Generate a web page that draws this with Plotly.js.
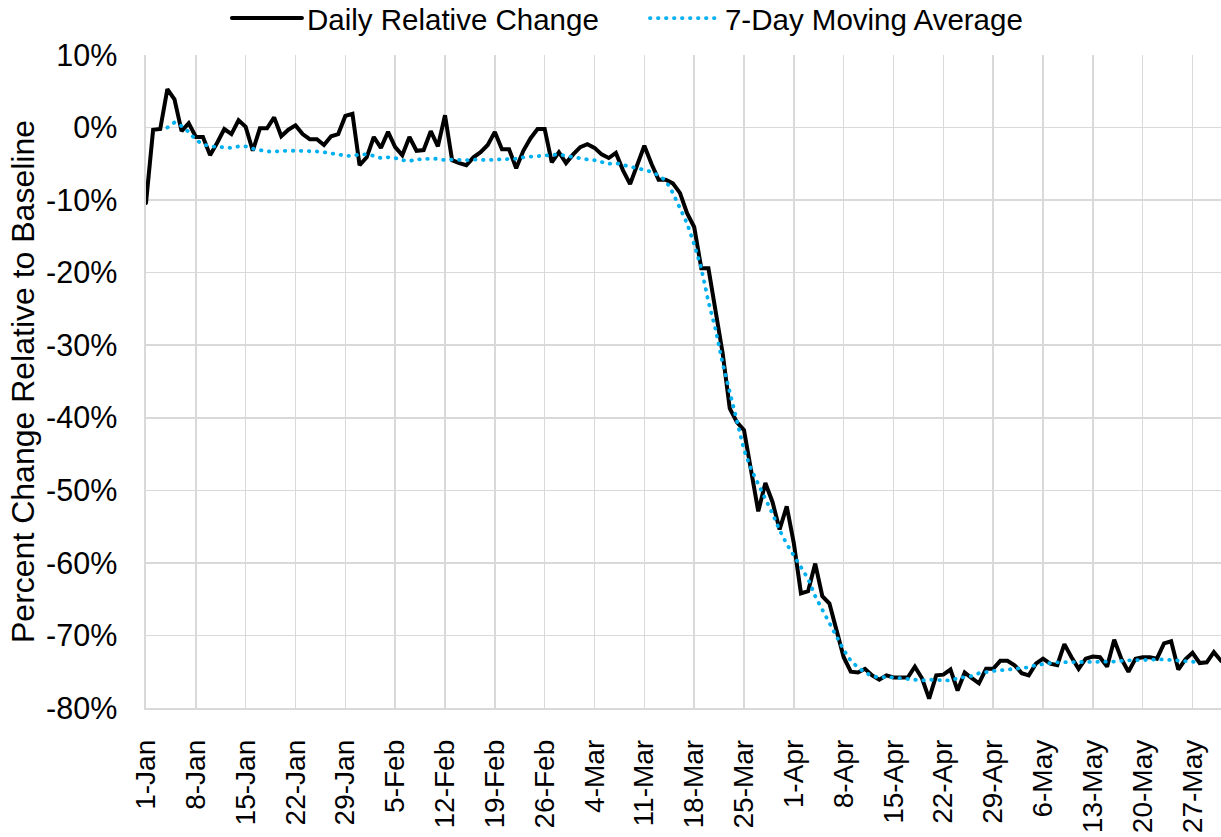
<!DOCTYPE html>
<html>
<head>
<meta charset="utf-8">
<script src="https://cdn.plot.ly/plotly-3.0.1.min.js"></script>
<style>
html,body{margin:0;padding:0;background:#fff;}
#chart{width:1221px;height:837px;}
#chart path.js-line{stroke-linecap:round;}
</style>
</head>
<body>
<div id="chart"></div>
<script>
// Daily series, 1-Jan-2020 .. 31-May-2020
const startDate = '2020-01-01';
const dayCount = 152;

const dailyChange = [
-10.4,-0.3,-0.2,5.3,3.9,-0.5,0.6,-1.3,-1.3,-3.8,
-2.1,-0.2,-0.9,1.0,0.1,-3.2,-0.1,-0.1,1.4,-1.2,
-0.3,0.3,-0.9,-1.6,-1.6,-2.4,-1.2,-0.9,1.6,1.9,
-5.2,-4.1,-1.3,-2.8,-0.6,-2.7,-3.8,-1.3,-3.2,-3.1,
-0.5,-2.6,1.7,-4.5,-4.9,-5.2,-4.1,-3.4,-2.4,-0.6,
-3.0,-3.0,-5.6,-3.2,-1.5,-0.2,-0.2,-4.8,-3.4,-4.9,
-3.7,-2.7,-2.3,-2.8,-3.7,-4.2,-3.5,-5.9,-7.8,-5.2,
-2.5,-5.0,-7.2,-7.2,-7.7,-9.0,-11.8,-13.7,-19.4,-19.4,
-25.4,-31.1,-38.7,-40.6,-41.7,-47.2,-52.9,-49.0,-51.6,-55.4,
-52.2,-57.3,-64.2,-63.9,-60.1,-64.6,-65.6,-69.3,-73.0,-75.0,
-75.1,-74.6,-75.5,-76.1,-75.5,-75.8,-75.8,-75.8,-74.3,-75.9,
-78.7,-75.5,-75.4,-74.7,-77.6,-75.1,-75.9,-76.6,-74.6,-74.6,
-73.5,-73.5,-74.1,-75.2,-75.5,-73.9,-73.2,-73.9,-74.1,-71.2,
-73.0,-74.6,-73.2,-72.9,-73.0,-74.3,-70.6,-73.2,-75.0,-73.2,
-73.0,-73.0,-73.2,-71.1,-70.8,-74.7,-73.3,-72.4,-73.8,-73.7,
-72.3,-73.5
];

const movingAverage = [
null,null,null,0.0,0.7,0.2,-0.6,-1.7,-2.3,-2.6,
-2.7,-2.7,-2.8,-2.6,-2.6,-2.9,-3.1,-3.3,-3.3,-3.2,
-3.2,-3.2,-3.2,-3.2,-3.3,-3.4,-3.5,-3.7,-3.9,-3.9,
-3.7,-3.7,-3.9,-4.2,-4.1,-4.2,-4.5,-4.6,-4.4,-4.3,
-4.3,-4.3,-4.5,-4.4,-4.5,-4.5,-4.4,-4.5,-4.5,-4.4,
-4.4,-4.4,-4.3,-4.1,-4.0,-3.9,-3.9,-3.8,-3.7,-3.9,
-4.1,-4.3,-4.4,-4.5,-4.8,-5.0,-4.9,-5.2,-5.4,-5.6,
-5.8,-6.1,-6.6,-7.3,-9.0,-11.0,-13.2,-16.1,-19.4,-24.0,
-27.8,-32.5,-36.5,-40.6,-44.4,-47.1,-49.1,-51.0,-53.2,-55.5,
-57.4,-59.0,-60.6,-62.2,-64.6,-66.5,-68.2,-70.2,-72.0,-73.5,
-74.4,-75.1,-75.6,-75.8,-75.7,-75.8,-75.9,-76.1,-76.2,-76.2,
-76.1,-76.1,-76.2,-76.2,-75.9,-75.8,-75.6,-75.2,-75.0,-74.9,
-74.8,-74.7,-74.6,-74.4,-74.4,-74.1,-73.9,-73.8,-73.7,-73.7,
-73.7,-73.7,-73.6,-73.6,-73.6,-73.6,-73.6,-73.5,-73.4,-73.4,
-73.4,-73.3,-73.3,-73.3,-73.4,-73.5,-73.6,-73.7,-73.7,null,
null,null
];

const seriesNames = ['Daily Relative Change', '7-Day Moving Average'];
const yTitle = 'Percent Change Relative to Baseline';
const yTickValues = [10, 0, -10, -20, -30, -40, -50, -60, -70, -80];
const yTickLabels = ['10%', '0%', '-10%', '-20%', '-30%', '-40%', '-50%', '-60%', '-70%', '-80%'];

const dates = [];
{
  const d0 = new Date(startDate + 'T00:00:00Z');
  for (let i = 0; i < dayCount; i++) {
    const d = new Date(d0.getTime() + i * 86400000);
    dates.push(d.toISOString().slice(0, 10));
  }
}

const FONT = 'Liberation Sans, Arial, sans-serif';

const traces = [
  {
    x: dates, y: dailyChange, name: seriesNames[0], type: 'scatter', mode: 'lines',
    line: {color: '#000000', width: 4}
  },
  {
    x: dates, y: movingAverage, name: seriesNames[1], type: 'scatter', mode: 'lines',
    line: {color: '#00B0F0', width: 3.8, dash: '0.5px,7.5px'}
  }
];

const layout = {
  width: 1221, height: 837,
  margin: {l: 146, r: 0, t: 55, b: 129, pad: 0, autoexpand: false},
  paper_bgcolor: '#ffffff', plot_bgcolor: '#ffffff',
  font: {family: FONT, size: 29, color: '#000000'},
  showlegend: true,
  legend: {
    orientation: 'h', x: 0.0753, xanchor: 'left', y: 1.056, yanchor: 'middle',
    font: {family: FONT, size: 29.5, color: '#000'}, itemwidth: 70, entrywidth: 333,
    bgcolor: 'rgba(0,0,0,0)', tracegroupgap: 0
  },
  xaxis: {
    type: 'date',
    range: [dates[0], dates[dayCount - 1]],
    tick0: startDate, dtick: 7 * 86400000,
    tickformat: '%-d-%b', tickangle: -90,
    showgrid: true, gridcolor: '#d9d9d9', gridwidth: 1.6,
    showline: true, linecolor: '#d9d9d9', linewidth: 1.6,
    ticks: 'outside', ticklen: 19, tickcolor: 'rgba(0,0,0,0)',
    tickfont: {family: FONT, size: 28, color: '#000'},
    zeroline: false, fixedrange: true
  },
  yaxis: {
    range: [-80, 10], tickmode: 'array', tickvals: yTickValues, ticktext: yTickLabels,
    showgrid: true, gridcolor: '#d9d9d9', gridwidth: 1.6,
    showline: true, linecolor: '#d9d9d9', linewidth: 1.6,
    ticks: 'outside', ticklen: 21, tickcolor: 'rgba(0,0,0,0)',
    tickfont: {family: FONT, size: 30.5, color: '#000'},
    zeroline: false, fixedrange: true,
    title: {text: yTitle, font: {family: FONT, size: 32, color: '#000'}, standoff: 2}
  }
};

Plotly.newPlot('chart', traces, layout, {displayModeBar: false, staticPlot: true});
</script>
</body>
</html>
